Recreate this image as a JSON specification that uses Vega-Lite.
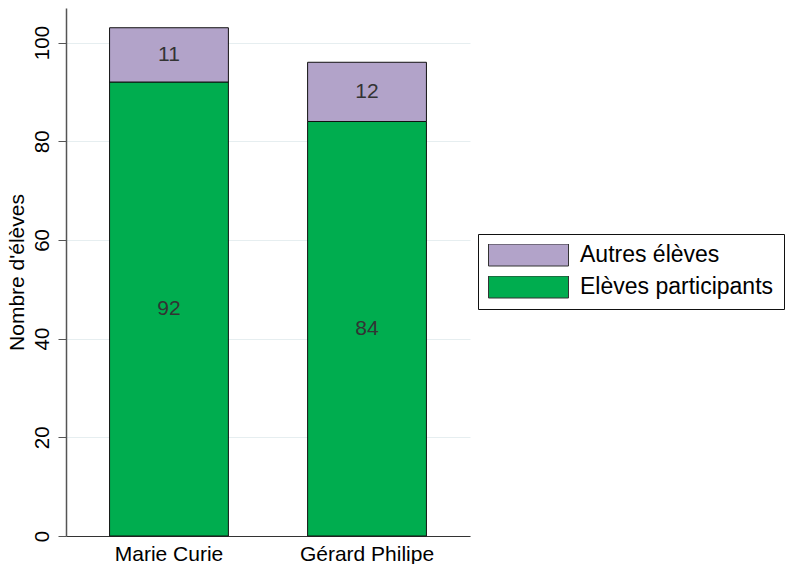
{
  "$schema": "https://vega.github.io/schema/vega-lite/v6.json",
  "autosize": {"type": "none"},
  "padding": {"left": 66, "top": 8, "right": 316, "bottom": 28},
  "width": 404,
  "height": 528,
  "background": "white",
  "config": {"view": {"stroke": null}},
  "data": {"values": [
    {"ecole": "Marie Curie", "groupe": "Elèves participants", "ordre": 1, "n": 92},
    {"ecole": "Marie Curie", "groupe": "Autres élèves", "ordre": 2, "n": 11},
    {"ecole": "Gérard Philipe", "groupe": "Elèves participants", "ordre": 1, "n": 84},
    {"ecole": "Gérard Philipe", "groupe": "Autres élèves", "ordre": 2, "n": 12}
  ]},
  "encoding": {
    "x": {"field": "ecole", "type": "nominal", "sort": ["Marie Curie", "Gérard Philipe"],
      "scale": {"paddingInner": 0.4, "paddingOuter": 0.22},
      "axis": {"title": null, "labelAngle": 0, "ticks": false, "grid": false, "labelFont": "Liberation Sans", "labelFontSize": 21, "labelColor": "#000", "labelPadding": 7, "domainColor": "#333", "domainWidth": 1.2}},
    "y": {"field": "n", "type": "quantitative", "stack": "zero",
      "scale": {"domain": [0, 107], "nice": false},
      "axis": {"title": "Nombre d'élèves", "values": [0, 20, 40, 60, 80, 100], "labelAngle": -90, "labelAlign": "center", "labelBaseline": "alphabetic", "labelPadding": 10, "tickSize": 8, "tickColor": "#555", "domainColor": "#555", "domainWidth": 1.5, "labelFont": "Liberation Sans", "labelFontSize": 20.5, "labelColor": "#000", "titleFont": "Liberation Sans", "titleFontSize": 21, "titleFontWeight": "normal", "titleColor": "#000", "titlePadding": 5, "gridColor": "#e6eef0", "gridWidth": 1}},
    "order": {"field": "ordre", "type": "ordinal"}
  },
  "layer": [
    {"mark": {"type": "bar", "stroke": "#111", "strokeWidth": 1},
     "encoding": {"color": {"field": "groupe", "type": "nominal",
       "scale": {"domain": ["Autres élèves", "Elèves participants"], "range": ["#b2a3c9", "#00ad4f"]},
       "legend": {"title": null, "orient": "none", "legendX": 412, "legendY": 226, "padding": 10, "strokeColor": "#111", "fillColor": "white",
         "symbolType": "M-1,-0.275H1V0.275H-1Z", "symbolSize": 6400, "symbolStrokeColor": "#333", "symbolStrokeWidth": 1, "symbolOpacity": 1,
         "clipHeight": 22, "rowPadding": 9, "labelOffset": 11, "labelLimit": 0, "labelFont": "Liberation Sans", "labelFontSize": 23, "labelColor": "#000"}}}},
    {"mark": {"type": "text", "font": "Liberation Sans", "fontSize": 21, "color": "#333", "baseline": "middle"},
     "encoding": {"y": {"field": "n", "type": "quantitative", "stack": "zero", "bandPosition": 0.5}, "text": {"field": "n", "type": "quantitative"}}}
  ]
}
